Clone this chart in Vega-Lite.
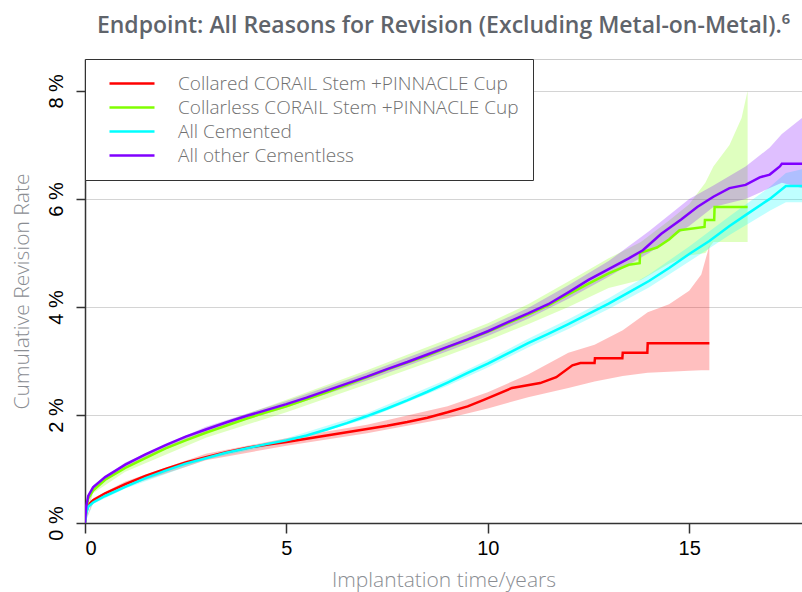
{
  "$schema": "https://vega.github.io/schema/vega-lite/v6.json",
  "width": 717,
  "height": 464,
  "autosize": {"type": "none"},
  "padding": {"left": 85, "top": 59, "right": 0, "bottom": 69},
  "background": "white",
  "title": {
    "text": "Endpoint: All Reasons for Revision (Excluding Metal-on-Metal).⁶",
    "anchor": "middle",
    "font": "Open Sans",
    "fontSize": 23,
    "fontWeight": 600,
    "color": "#5f646b",
    "offset": 21
  },
  "config": {
    "view": {"stroke": "#cccccc", "strokeWidth": 1},
    "axis": {
      "domainColor": "#333333",
      "domainWidth": 1.5,
      "tickColor": "#333333",
      "tickWidth": 1.5,
      "labelColor": "#000000",
      "labelFont": "Liberation Sans",
      "labelFontSize": 20,
      "titleFont": "Open Sans",
      "titleFontWeight": 300,
      "titleColor": "#8a8d92",
      "titleFontSize": 21
    }
  },
  "datasets": {
    "curves": [
      {"group": "Collared CORAIL Stem +PINNACLE Cup", "t": 0, "v": 0},
      {"group": "Collared CORAIL Stem +PINNACLE Cup", "t": 0.03, "v": 0.2},
      {"group": "Collared CORAIL Stem +PINNACLE Cup", "t": 0.08, "v": 0.33},
      {"group": "Collared CORAIL Stem +PINNACLE Cup", "t": 0.2, "v": 0.42},
      {"group": "Collared CORAIL Stem +PINNACLE Cup", "t": 0.5, "v": 0.55},
      {"group": "Collared CORAIL Stem +PINNACLE Cup", "t": 1, "v": 0.72},
      {"group": "Collared CORAIL Stem +PINNACLE Cup", "t": 1.5, "v": 0.87},
      {"group": "Collared CORAIL Stem +PINNACLE Cup", "t": 2, "v": 1.0},
      {"group": "Collared CORAIL Stem +PINNACLE Cup", "t": 2.5, "v": 1.12},
      {"group": "Collared CORAIL Stem +PINNACLE Cup", "t": 3, "v": 1.22},
      {"group": "Collared CORAIL Stem +PINNACLE Cup", "t": 3.5, "v": 1.31},
      {"group": "Collared CORAIL Stem +PINNACLE Cup", "t": 4, "v": 1.39},
      {"group": "Collared CORAIL Stem +PINNACLE Cup", "t": 4.5, "v": 1.45},
      {"group": "Collared CORAIL Stem +PINNACLE Cup", "t": 5, "v": 1.5},
      {"group": "Collared CORAIL Stem +PINNACLE Cup", "t": 5.5, "v": 1.56},
      {"group": "Collared CORAIL Stem +PINNACLE Cup", "t": 6, "v": 1.62},
      {"group": "Collared CORAIL Stem +PINNACLE Cup", "t": 6.5, "v": 1.68},
      {"group": "Collared CORAIL Stem +PINNACLE Cup", "t": 7, "v": 1.74},
      {"group": "Collared CORAIL Stem +PINNACLE Cup", "t": 7.5, "v": 1.8},
      {"group": "Collared CORAIL Stem +PINNACLE Cup", "t": 8, "v": 1.87},
      {"group": "Collared CORAIL Stem +PINNACLE Cup", "t": 8.5, "v": 1.95},
      {"group": "Collared CORAIL Stem +PINNACLE Cup", "t": 9, "v": 2.05},
      {"group": "Collared CORAIL Stem +PINNACLE Cup", "t": 9.5, "v": 2.16},
      {"group": "Collared CORAIL Stem +PINNACLE Cup", "t": 9.9, "v": 2.28},
      {"group": "Collared CORAIL Stem +PINNACLE Cup", "t": 10.6, "v": 2.5},
      {"group": "Collared CORAIL Stem +PINNACLE Cup", "t": 11.3, "v": 2.59},
      {"group": "Collared CORAIL Stem +PINNACLE Cup", "t": 11.7, "v": 2.7},
      {"group": "Collared CORAIL Stem +PINNACLE Cup", "t": 12.1, "v": 2.92},
      {"group": "Collared CORAIL Stem +PINNACLE Cup", "t": 12.3, "v": 2.96},
      {"group": "Collared CORAIL Stem +PINNACLE Cup", "t": 12.65, "v": 2.96},
      {"group": "Collared CORAIL Stem +PINNACLE Cup", "t": 12.66, "v": 3.05},
      {"group": "Collared CORAIL Stem +PINNACLE Cup", "t": 13.34, "v": 3.05},
      {"group": "Collared CORAIL Stem +PINNACLE Cup", "t": 13.35, "v": 3.15},
      {"group": "Collared CORAIL Stem +PINNACLE Cup", "t": 13.96, "v": 3.15},
      {"group": "Collared CORAIL Stem +PINNACLE Cup", "t": 13.97, "v": 3.33},
      {"group": "Collared CORAIL Stem +PINNACLE Cup", "t": 15.5, "v": 3.33},

      {"group": "Collarless CORAIL Stem +PINNACLE Cup", "t": 0, "v": 0},
      {"group": "Collarless CORAIL Stem +PINNACLE Cup", "t": 0.03, "v": 0.25},
      {"group": "Collarless CORAIL Stem +PINNACLE Cup", "t": 0.08, "v": 0.45},
      {"group": "Collarless CORAIL Stem +PINNACLE Cup", "t": 0.2, "v": 0.6},
      {"group": "Collarless CORAIL Stem +PINNACLE Cup", "t": 0.5, "v": 0.8},
      {"group": "Collarless CORAIL Stem +PINNACLE Cup", "t": 1, "v": 1.02},
      {"group": "Collarless CORAIL Stem +PINNACLE Cup", "t": 1.5, "v": 1.2},
      {"group": "Collarless CORAIL Stem +PINNACLE Cup", "t": 2, "v": 1.38},
      {"group": "Collarless CORAIL Stem +PINNACLE Cup", "t": 2.5, "v": 1.53},
      {"group": "Collarless CORAIL Stem +PINNACLE Cup", "t": 3, "v": 1.67},
      {"group": "Collarless CORAIL Stem +PINNACLE Cup", "t": 3.5, "v": 1.8},
      {"group": "Collarless CORAIL Stem +PINNACLE Cup", "t": 4, "v": 1.93},
      {"group": "Collarless CORAIL Stem +PINNACLE Cup", "t": 4.5, "v": 2.05},
      {"group": "Collarless CORAIL Stem +PINNACLE Cup", "t": 5, "v": 2.16},
      {"group": "Collarless CORAIL Stem +PINNACLE Cup", "t": 5.5, "v": 2.29},
      {"group": "Collarless CORAIL Stem +PINNACLE Cup", "t": 6, "v": 2.42},
      {"group": "Collarless CORAIL Stem +PINNACLE Cup", "t": 6.5, "v": 2.56},
      {"group": "Collarless CORAIL Stem +PINNACLE Cup", "t": 7, "v": 2.7},
      {"group": "Collarless CORAIL Stem +PINNACLE Cup", "t": 7.5, "v": 2.84},
      {"group": "Collarless CORAIL Stem +PINNACLE Cup", "t": 8, "v": 2.97},
      {"group": "Collarless CORAIL Stem +PINNACLE Cup", "t": 8.5, "v": 3.1},
      {"group": "Collarless CORAIL Stem +PINNACLE Cup", "t": 9, "v": 3.25},
      {"group": "Collarless CORAIL Stem +PINNACLE Cup", "t": 9.5, "v": 3.39},
      {"group": "Collarless CORAIL Stem +PINNACLE Cup", "t": 10, "v": 3.54},
      {"group": "Collarless CORAIL Stem +PINNACLE Cup", "t": 10.5, "v": 3.7},
      {"group": "Collarless CORAIL Stem +PINNACLE Cup", "t": 11, "v": 3.86},
      {"group": "Collarless CORAIL Stem +PINNACLE Cup", "t": 11.5, "v": 4.03},
      {"group": "Collarless CORAIL Stem +PINNACLE Cup", "t": 12, "v": 4.23},
      {"group": "Collarless CORAIL Stem +PINNACLE Cup", "t": 12.5, "v": 4.43},
      {"group": "Collarless CORAIL Stem +PINNACLE Cup", "t": 13, "v": 4.62},
      {"group": "Collarless CORAIL Stem +PINNACLE Cup", "t": 13.5, "v": 4.78},
      {"group": "Collarless CORAIL Stem +PINNACLE Cup", "t": 13.77, "v": 4.81},
      {"group": "Collarless CORAIL Stem +PINNACLE Cup", "t": 13.78, "v": 5.0},
      {"group": "Collarless CORAIL Stem +PINNACLE Cup", "t": 14.2, "v": 5.1},
      {"group": "Collarless CORAIL Stem +PINNACLE Cup", "t": 14.5, "v": 5.25},
      {"group": "Collarless CORAIL Stem +PINNACLE Cup", "t": 14.76, "v": 5.42},
      {"group": "Collarless CORAIL Stem +PINNACLE Cup", "t": 15.38, "v": 5.48},
      {"group": "Collarless CORAIL Stem +PINNACLE Cup", "t": 15.39, "v": 5.61},
      {"group": "Collarless CORAIL Stem +PINNACLE Cup", "t": 15.62, "v": 5.61},
      {"group": "Collarless CORAIL Stem +PINNACLE Cup", "t": 15.63, "v": 5.85},
      {"group": "Collarless CORAIL Stem +PINNACLE Cup", "t": 16.45, "v": 5.85},

      {"group": "All Cemented", "t": 0, "v": 0},
      {"group": "All Cemented", "t": 0.03, "v": 0.18},
      {"group": "All Cemented", "t": 0.08, "v": 0.3},
      {"group": "All Cemented", "t": 0.2, "v": 0.38},
      {"group": "All Cemented", "t": 0.5, "v": 0.5},
      {"group": "All Cemented", "t": 1, "v": 0.67},
      {"group": "All Cemented", "t": 1.5, "v": 0.83},
      {"group": "All Cemented", "t": 2, "v": 0.97},
      {"group": "All Cemented", "t": 2.5, "v": 1.1},
      {"group": "All Cemented", "t": 3, "v": 1.2},
      {"group": "All Cemented", "t": 3.5, "v": 1.3},
      {"group": "All Cemented", "t": 4, "v": 1.38},
      {"group": "All Cemented", "t": 4.5, "v": 1.46},
      {"group": "All Cemented", "t": 5, "v": 1.53},
      {"group": "All Cemented", "t": 5.5, "v": 1.62},
      {"group": "All Cemented", "t": 6, "v": 1.73},
      {"group": "All Cemented", "t": 6.5, "v": 1.85},
      {"group": "All Cemented", "t": 7, "v": 1.98},
      {"group": "All Cemented", "t": 7.5, "v": 2.12},
      {"group": "All Cemented", "t": 8, "v": 2.27},
      {"group": "All Cemented", "t": 8.5, "v": 2.43},
      {"group": "All Cemented", "t": 9, "v": 2.6},
      {"group": "All Cemented", "t": 9.5, "v": 2.78},
      {"group": "All Cemented", "t": 10, "v": 2.95},
      {"group": "All Cemented", "t": 10.5, "v": 3.14},
      {"group": "All Cemented", "t": 11, "v": 3.33},
      {"group": "All Cemented", "t": 11.5, "v": 3.5},
      {"group": "All Cemented", "t": 12, "v": 3.68},
      {"group": "All Cemented", "t": 12.5, "v": 3.87},
      {"group": "All Cemented", "t": 13, "v": 4.06},
      {"group": "All Cemented", "t": 13.5, "v": 4.27},
      {"group": "All Cemented", "t": 14, "v": 4.48},
      {"group": "All Cemented", "t": 14.5, "v": 4.72},
      {"group": "All Cemented", "t": 15, "v": 4.98},
      {"group": "All Cemented", "t": 15.5, "v": 5.22},
      {"group": "All Cemented", "t": 16, "v": 5.5},
      {"group": "All Cemented", "t": 16.5, "v": 5.75},
      {"group": "All Cemented", "t": 17, "v": 6.0},
      {"group": "All Cemented", "t": 17.4, "v": 6.24},
      {"group": "All Cemented", "t": 17.8, "v": 6.24},

      {"group": "All other Cementless", "t": 0, "v": 0},
      {"group": "All other Cementless", "t": 0.03, "v": 0.3},
      {"group": "All other Cementless", "t": 0.08, "v": 0.5},
      {"group": "All other Cementless", "t": 0.2, "v": 0.66},
      {"group": "All other Cementless", "t": 0.5, "v": 0.85},
      {"group": "All other Cementless", "t": 1, "v": 1.08},
      {"group": "All other Cementless", "t": 1.5, "v": 1.27},
      {"group": "All other Cementless", "t": 2, "v": 1.44},
      {"group": "All other Cementless", "t": 2.5, "v": 1.6},
      {"group": "All other Cementless", "t": 3, "v": 1.73},
      {"group": "All other Cementless", "t": 3.5, "v": 1.86},
      {"group": "All other Cementless", "t": 4, "v": 1.98},
      {"group": "All other Cementless", "t": 4.5, "v": 2.09},
      {"group": "All other Cementless", "t": 5, "v": 2.2},
      {"group": "All other Cementless", "t": 5.5, "v": 2.32},
      {"group": "All other Cementless", "t": 6, "v": 2.45},
      {"group": "All other Cementless", "t": 6.5, "v": 2.58},
      {"group": "All other Cementless", "t": 7, "v": 2.71},
      {"group": "All other Cementless", "t": 7.5, "v": 2.85},
      {"group": "All other Cementless", "t": 8, "v": 2.98},
      {"group": "All other Cementless", "t": 8.5, "v": 3.12},
      {"group": "All other Cementless", "t": 9, "v": 3.26},
      {"group": "All other Cementless", "t": 9.5, "v": 3.4},
      {"group": "All other Cementless", "t": 10, "v": 3.55},
      {"group": "All other Cementless", "t": 10.5, "v": 3.72},
      {"group": "All other Cementless", "t": 11, "v": 3.88},
      {"group": "All other Cementless", "t": 11.5, "v": 4.05},
      {"group": "All other Cementless", "t": 12, "v": 4.27},
      {"group": "All other Cementless", "t": 12.5, "v": 4.5},
      {"group": "All other Cementless", "t": 13, "v": 4.7},
      {"group": "All other Cementless", "t": 13.5, "v": 4.9},
      {"group": "All other Cementless", "t": 13.85, "v": 5.05},
      {"group": "All other Cementless", "t": 14.3, "v": 5.35},
      {"group": "All other Cementless", "t": 14.8, "v": 5.62},
      {"group": "All other Cementless", "t": 15.2, "v": 5.85},
      {"group": "All other Cementless", "t": 15.6, "v": 6.04},
      {"group": "All other Cementless", "t": 16, "v": 6.2},
      {"group": "All other Cementless", "t": 16.4, "v": 6.26},
      {"group": "All other Cementless", "t": 16.75, "v": 6.4},
      {"group": "All other Cementless", "t": 17, "v": 6.45},
      {"group": "All other Cementless", "t": 17.25, "v": 6.6},
      {"group": "All other Cementless", "t": 17.3, "v": 6.65},
      {"group": "All other Cementless", "t": 17.8, "v": 6.65}
    ],
    "bands": [
      {"group": "Collared CORAIL Stem +PINNACLE Cup", "t": 0, "lo": 0, "hi": 0},
      {"group": "Collared CORAIL Stem +PINNACLE Cup", "t": 0.2, "lo": 0.38, "hi": 0.46},
      {"group": "Collared CORAIL Stem +PINNACLE Cup", "t": 1, "lo": 0.67, "hi": 0.77},
      {"group": "Collared CORAIL Stem +PINNACLE Cup", "t": 3, "lo": 1.16, "hi": 1.28},
      {"group": "Collared CORAIL Stem +PINNACLE Cup", "t": 5, "lo": 1.43, "hi": 1.57},
      {"group": "Collared CORAIL Stem +PINNACLE Cup", "t": 7, "lo": 1.66, "hi": 1.82},
      {"group": "Collared CORAIL Stem +PINNACLE Cup", "t": 9, "lo": 1.94, "hi": 2.16},
      {"group": "Collared CORAIL Stem +PINNACLE Cup", "t": 10, "lo": 2.12, "hi": 2.42},
      {"group": "Collared CORAIL Stem +PINNACLE Cup", "t": 11, "lo": 2.33, "hi": 2.75},
      {"group": "Collared CORAIL Stem +PINNACLE Cup", "t": 12, "lo": 2.5, "hi": 3.15},
      {"group": "Collared CORAIL Stem +PINNACLE Cup", "t": 12.65, "lo": 2.62, "hi": 3.3},
      {"group": "Collared CORAIL Stem +PINNACLE Cup", "t": 13.35, "lo": 2.72, "hi": 3.57},
      {"group": "Collared CORAIL Stem +PINNACLE Cup", "t": 13.97, "lo": 2.78, "hi": 3.9},
      {"group": "Collared CORAIL Stem +PINNACLE Cup", "t": 14.5, "lo": 2.8, "hi": 4.05},
      {"group": "Collared CORAIL Stem +PINNACLE Cup", "t": 15.0, "lo": 2.82, "hi": 4.3},
      {"group": "Collared CORAIL Stem +PINNACLE Cup", "t": 15.3, "lo": 2.83, "hi": 4.6},
      {"group": "Collared CORAIL Stem +PINNACLE Cup", "t": 15.45, "lo": 2.83, "hi": 5.0},
      {"group": "Collared CORAIL Stem +PINNACLE Cup", "t": 15.5, "lo": 2.83, "hi": 5.15},

      {"group": "Collarless CORAIL Stem +PINNACLE Cup", "t": 0, "lo": 0, "hi": 0},
      {"group": "Collarless CORAIL Stem +PINNACLE Cup", "t": 0.2, "lo": 0.55, "hi": 0.67},
      {"group": "Collarless CORAIL Stem +PINNACLE Cup", "t": 1, "lo": 0.95, "hi": 1.1},
      {"group": "Collarless CORAIL Stem +PINNACLE Cup", "t": 3, "lo": 1.58, "hi": 1.76},
      {"group": "Collarless CORAIL Stem +PINNACLE Cup", "t": 5, "lo": 2.05, "hi": 2.28},
      {"group": "Collarless CORAIL Stem +PINNACLE Cup", "t": 7, "lo": 2.57, "hi": 2.83},
      {"group": "Collarless CORAIL Stem +PINNACLE Cup", "t": 9, "lo": 3.1, "hi": 3.4},
      {"group": "Collarless CORAIL Stem +PINNACLE Cup", "t": 10, "lo": 3.38, "hi": 3.7},
      {"group": "Collarless CORAIL Stem +PINNACLE Cup", "t": 11, "lo": 3.68, "hi": 4.05},
      {"group": "Collarless CORAIL Stem +PINNACLE Cup", "t": 12, "lo": 4.0, "hi": 4.47},
      {"group": "Collarless CORAIL Stem +PINNACLE Cup", "t": 13, "lo": 4.35, "hi": 4.9},
      {"group": "Collarless CORAIL Stem +PINNACLE Cup", "t": 13.8, "lo": 4.5, "hi": 5.2},
      {"group": "Collarless CORAIL Stem +PINNACLE Cup", "t": 14.5, "lo": 4.8, "hi": 5.6},
      {"group": "Collarless CORAIL Stem +PINNACLE Cup", "t": 15, "lo": 4.95, "hi": 5.9},
      {"group": "Collarless CORAIL Stem +PINNACLE Cup", "t": 15.4, "lo": 5.0, "hi": 6.3},
      {"group": "Collarless CORAIL Stem +PINNACLE Cup", "t": 15.6, "lo": 5.2, "hi": 6.6},
      {"group": "Collarless CORAIL Stem +PINNACLE Cup", "t": 16, "lo": 5.2, "hi": 7.0},
      {"group": "Collarless CORAIL Stem +PINNACLE Cup", "t": 16.3, "lo": 5.2, "hi": 7.5},
      {"group": "Collarless CORAIL Stem +PINNACLE Cup", "t": 16.45, "lo": 5.2, "hi": 8.0},

      {"group": "All Cemented", "t": 0, "lo": 0, "hi": 0},
      {"group": "All Cemented", "t": 0.2, "lo": 0.35, "hi": 0.41},
      {"group": "All Cemented", "t": 1, "lo": 0.64, "hi": 0.7},
      {"group": "All Cemented", "t": 3, "lo": 1.17, "hi": 1.23},
      {"group": "All Cemented", "t": 5, "lo": 1.49, "hi": 1.57},
      {"group": "All Cemented", "t": 7, "lo": 1.93, "hi": 2.03},
      {"group": "All Cemented", "t": 9, "lo": 2.54, "hi": 2.66},
      {"group": "All Cemented", "t": 10, "lo": 2.88, "hi": 3.02},
      {"group": "All Cemented", "t": 11, "lo": 3.25, "hi": 3.41},
      {"group": "All Cemented", "t": 12, "lo": 3.59, "hi": 3.77},
      {"group": "All Cemented", "t": 13, "lo": 3.96, "hi": 4.16},
      {"group": "All Cemented", "t": 14, "lo": 4.36, "hi": 4.6},
      {"group": "All Cemented", "t": 15, "lo": 4.84, "hi": 5.12},
      {"group": "All Cemented", "t": 16, "lo": 5.33, "hi": 5.68},
      {"group": "All Cemented", "t": 17, "lo": 5.78, "hi": 6.22},
      {"group": "All Cemented", "t": 17.4, "lo": 5.94, "hi": 6.48},
      {"group": "All Cemented", "t": 17.8, "lo": 5.94, "hi": 6.55},

      {"group": "All other Cementless", "t": 0, "lo": 0, "hi": 0},
      {"group": "All other Cementless", "t": 0.2, "lo": 0.62, "hi": 0.7},
      {"group": "All other Cementless", "t": 1, "lo": 1.04, "hi": 1.12},
      {"group": "All other Cementless", "t": 3, "lo": 1.68, "hi": 1.78},
      {"group": "All other Cementless", "t": 5, "lo": 2.14, "hi": 2.26},
      {"group": "All other Cementless", "t": 7, "lo": 2.64, "hi": 2.78},
      {"group": "All other Cementless", "t": 9, "lo": 3.18, "hi": 3.34},
      {"group": "All other Cementless", "t": 10, "lo": 3.46, "hi": 3.64},
      {"group": "All other Cementless", "t": 11, "lo": 3.78, "hi": 3.98},
      {"group": "All other Cementless", "t": 12, "lo": 4.15, "hi": 4.4},
      {"group": "All other Cementless", "t": 13, "lo": 4.56, "hi": 4.85},
      {"group": "All other Cementless", "t": 14, "lo": 5.0, "hi": 5.4},
      {"group": "All other Cementless", "t": 15, "lo": 5.5, "hi": 6.0},
      {"group": "All other Cementless", "t": 15.6, "lo": 5.85, "hi": 6.25},
      {"group": "All other Cementless", "t": 16.4, "lo": 6.0, "hi": 6.6},
      {"group": "All other Cementless", "t": 17, "lo": 6.2, "hi": 6.95},
      {"group": "All other Cementless", "t": 17.3, "lo": 6.3, "hi": 7.2},
      {"group": "All other Cementless", "t": 17.8, "lo": 6.2, "hi": 7.5}
    ]
  },
  "encoding": {
    "color": {
      "field": "group",
      "type": "nominal",
      "title": null,
      "scale": {
        "domain": ["Collared CORAIL Stem +PINNACLE Cup", "Collarless CORAIL Stem +PINNACLE Cup", "All Cemented", "All other Cementless"],
        "range": ["#ff0000", "#80ff00", "#00ffff", "#8000ff"]
      },
      "legend": {
        "orient": "none",
        "legendX": 0,
        "legendY": 0,
        "symbolType": "M-2.5,0L2.5,0",
        "symbolSize": 324,
        "symbolStrokeWidth": 2.5,
        "symbolOpacity": 1,
        "symbolFillColor": "transparent",
        "symbolOffset": 22.5,
        "labelFont": "Open Sans",
        "labelFontWeight": 300,
        "labelFontSize": 19,
        "labelColor": "#707070",
        "labelLimit": 600,
        "labelOffset": 35.5,
        "rowPadding": 3,
        "padding": 14,
        "fillColor": "white",
        "strokeColor": "#333333"
      }
    }
  },
  "layer": [
    {
      "data": {"name": "bands"},
      "mark": {"type": "area", "opacity": 0.25, "clip": true},
      "encoding": {
        "x": {"field": "t", "type": "quantitative"},
        "y": {"field": "lo", "type": "quantitative"},
        "y2": {"field": "hi"}
      }
    },
    {
      "data": {"name": "curves"},
      "mark": {"type": "line", "strokeWidth": 2.5, "clip": true},
      "encoding": {
        "x": {
          "field": "t",
          "type": "quantitative",
          "scale": {"domain": [0, 17.8], "nice": false},
          "axis": {
            "title": "Implantation time/years",
            "values": [0, 5, 10, 15],
            "grid": false,
            "tickSize": 10,
            "labelPadding": 5,
            "titlePadding": 11
          }
        },
        "y": {
          "field": "v",
          "type": "quantitative",
          "scale": {"domain": [0, 8.59], "nice": false},
          "axis": {
            "title": "Cumulative Revision Rate",
            "values": [0, 2, 4, 6, 8],
            "labelExpr": "datum.value + ' %'",
            "labelAngle": -90,
            "labelAlign": "center",
            "labelBaseline": "bottom",
            "labelPadding": 10,
            "tickSize": 9,
            "grid": true,
            "gridColor": "#d4d4d4",
            "gridWidth": 1.2,
            "titlePadding": 14
          }
        }
      }
    }
  ]
}
